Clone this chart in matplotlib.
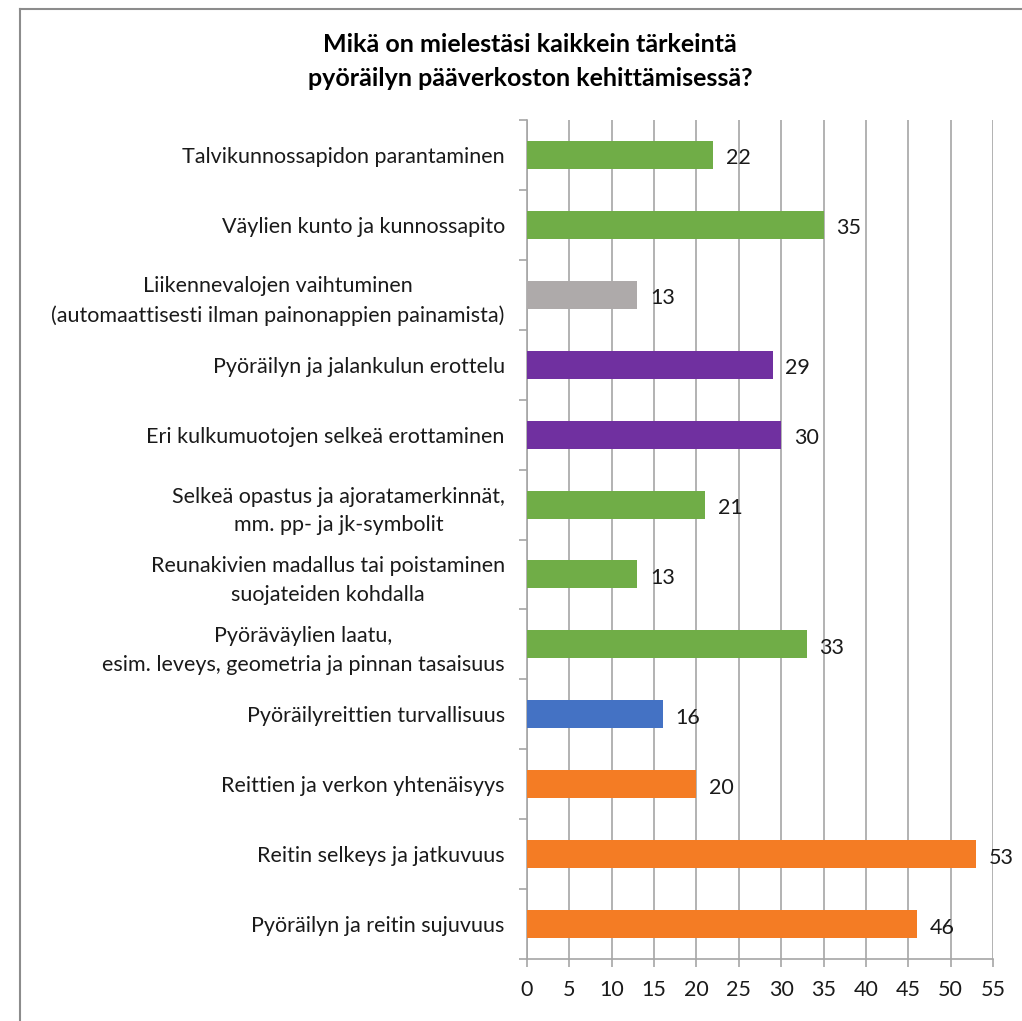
import matplotlib
matplotlib.use("Agg")
import matplotlib.pyplot as plt
from matplotlib.lines import Line2D
import numpy as np

plt.rcParams['font.family'] = ['Lato', 'DejaVu Sans']

# data, top to bottom as in the chart
labels = [
    "Talvikunnossapidon parantaminen",
    "Väylien kunto ja kunnossapito",
    "Liikennevalojen vaihtuminen\n(automaattisesti ilman painonappien painamista)",
    "Pyöräilyn ja jalankulun erottelu",
    "Eri kulkumuotojen selkeä erottaminen",
    "Selkeä opastus ja ajoratamerkinnät,\nmm. pp- ja jk-symbolit",
    "Reunakivien madallus tai poistaminen\nsuojateiden kohdalla",
    "Pyöräväylien laatu,\nesim. leveys, geometria ja pinnan tasaisuus",
    "Pyöräilyreittien turvallisuus",
    "Reittien ja verkon yhtenäisyys",
    "Reitin selkeys ja jatkuvuus",
    "Pyöräilyn ja reitin sujuvuus",
]
values = [22, 35, 13, 29, 30, 21, 13, 33, 16, 20, 53, 46]
groups = ["green", "green", "gray", "purple", "purple", "green",
          "green", "green", "blue", "orange", "orange", "orange"]
xticks = list(range(0, 60, 5))

palette = {"green": "#70AD47", "gray": "#AEAAAA", "purple": "#7030A0",
           "blue": "#4472C4", "orange": "#F47C24"}
colors = [palette[g] for g in groups]

W, H = 1022, 1021
fs = 15.5
txtc = '#1A1A1A'
fig = plt.figure(figsize=(W / 100, H / 100), dpi=100)
ax = fig.add_axes([527 / W, 1 - 959 / H, (993 - 527) / W, (959 - 120) / H])

y = np.arange(len(values))
ax.barh(y, values, height=0.4, color=colors, zorder=3)
for yi, v in zip(y, values):
    ax.text(v + 1.5, yi + 0.05, str(v), va='center', ha='left',
            fontsize=fs, color=txtc)

ax.set_ylim(len(values) - 0.5, -0.5)
ax.set_xlim(0, 55)
ax.set_xticks(xticks)
ax.set_xticklabels([str(t) for t in xticks], fontsize=fs, color=txtc)

ax.set_yticks(y)
ax.set_yticklabels(labels, fontsize=fs, color=txtc)
for t in ax.get_yticklabels():
    t.set_multialignment('center')
    t.set_linespacing(1.55)
ax.set_yticks(np.arange(-0.5, len(values)), minor=True)

gridc = '#A6A6A6'
ax.grid(axis='x', color=gridc, linewidth=1.2, zorder=0)
ax.tick_params(axis='y', which='major', length=0, pad=16)
ax.tick_params(axis='y', which='minor', length=6, color=gridc, width=1.2)
ax.tick_params(axis='x', length=6, color=gridc, width=1.2, pad=9)
for s in ['top', 'right']:
    ax.spines[s].set_visible(False)
for s in ['left', 'bottom']:
    ax.spines[s].set_color(gridc)
    ax.spines[s].set_linewidth(1.2)

fig.text(530 / W, 1 - 45 / H, "Mikä on mielestäsi kaikkein tärkeintä",
         ha='center', va='center', fontsize=18, fontweight='bold')
fig.text(530 / W, 1 - 78 / H, "pyöräilyn pääverkoston kehittämisessä?",
         ha='center', va='center', fontsize=18, fontweight='bold')

# outer frame (top and left edges)
framec = '#8C8C8C'
fig.add_artist(Line2D([20 / W, 1], [1 - 9 / H, 1 - 9 / H], color=framec,
                      linewidth=1.5, transform=fig.transFigure))
fig.add_artist(Line2D([20 / W, 20 / W], [0, 1 - 9 / H], color=framec,
                      linewidth=1.5, transform=fig.transFigure))

fig.savefig("out.png", dpi=100)
